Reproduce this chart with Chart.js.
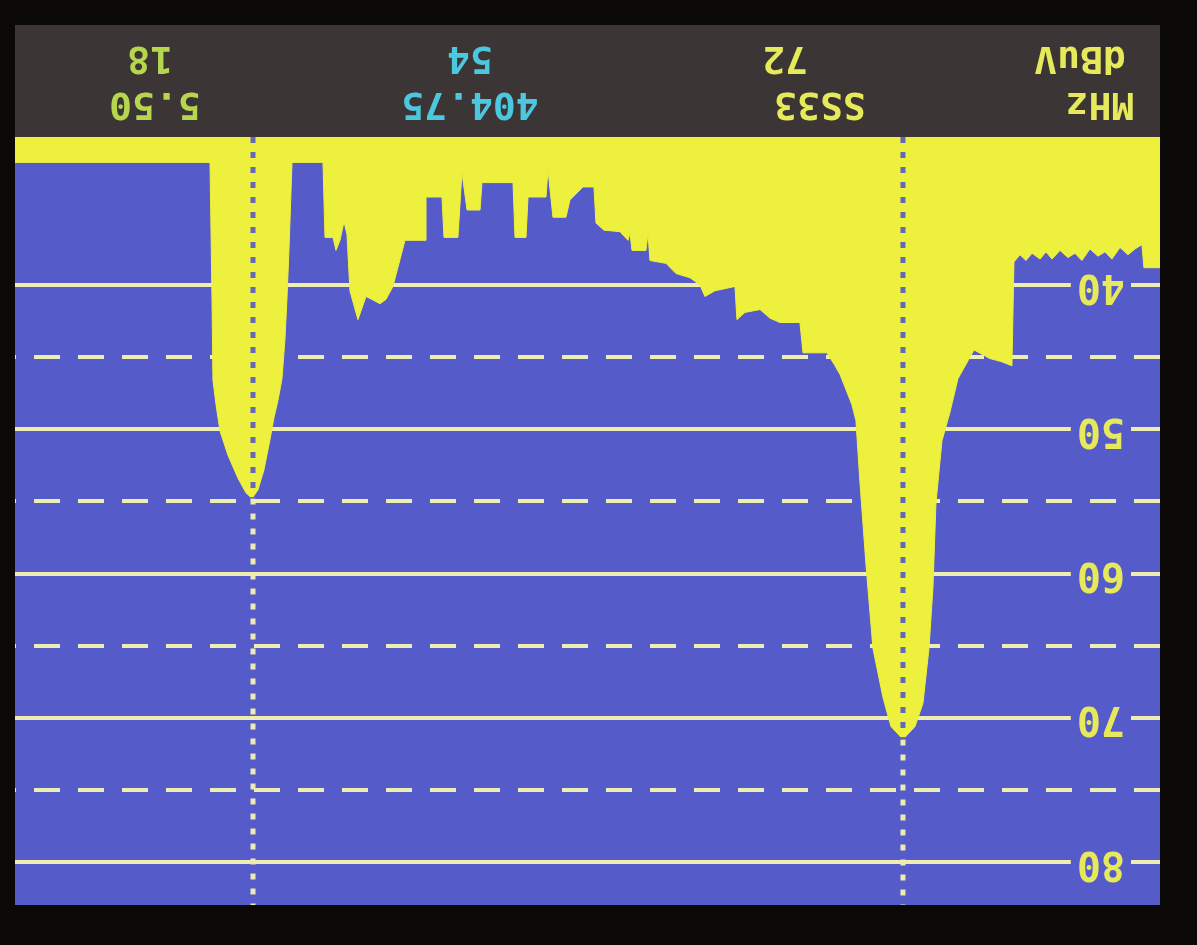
<!DOCTYPE html>
<html><head><meta charset="utf-8">
<script src="https://cdn.jsdelivr.net/npm/chart.js@4.4.1/dist/chart.umd.min.js"></script>
<style>
html,body{margin:0;padding:0;background:#0b0907;overflow:hidden;}
#wrap{position:absolute;left:0;top:0;width:1197px;height:945px;transform:rotate(180deg);transform-origin:50% 50%;}
canvas{display:block;}
</style></head><body>
<div id="wrap"><canvas id="c" width="1197" height="945"></canvas></div>
<script>
// Spectrum trace (frequency in MHz, level in dBuV)
const freqMHz = [
397.075,397.211,397.228,397.287,397.346,397.414,397.482,397.541,397.600,397.668,
397.736,397.795,397.854,397.921,397.989,398.040,398.090,398.158,398.209,398.260,
398.311,398.328,398.421,398.514,398.649,398.785,398.852,398.920,398.971,398.996,
399.030,399.081,399.148,399.250,399.352,399.419,399.504,399.563,399.614,399.648,
399.682,399.783,399.825,399.893,400.096,400.122,400.291,400.375,400.460,400.587,
400.655,400.672,400.841,400.926,400.968,401.052,401.171,401.255,401.391,401.408,
401.425,401.543,401.560,401.577,401.645,401.780,401.848,401.865,401.958,402.068,
402.102,402.212,402.254,402.271,402.423,402.440,402.533,402.550,402.813,402.829,
402.939,402.982,403.016,403.134,403.151,403.278,403.286,403.464,403.566,403.625,
403.676,403.743,403.794,403.862,403.930,403.955,403.980,404.014,404.048,404.073,
404.141,404.158,404.420,404.446,404.463,404.480,404.505,404.539,404.573,404.606,
404.657,404.708,404.759,404.810,404.877,404.962,405.030,405.063,405.089,405.097,
405.114,406.764];
const levelDbuv = [
38.8,38.8,37.2,37.5,37.9,37.4,38.2,37.7,38.0,37.5,
38.3,37.8,38.1,37.6,38.2,37.7,38.2,37.8,38.3,37.9,
38.4,45.6,45.3,45.1,44.5,46.5,48.8,50.8,55.1,60.9,
65.2,69.0,70.6,71.5,70.6,68.6,65.2,59.4,53.7,49.4,
48.3,46.2,45.6,44.7,44.7,42.6,42.6,42.3,41.7,41.9,
42.4,40.1,40.4,40.8,40.0,39.5,39.2,38.5,38.3,36.4,
37.6,37.6,36.4,36.9,36.3,36.2,35.7,33.2,33.2,34.1,
35.3,35.3,32.0,33.9,33.9,36.7,36.7,32.9,32.9,34.8,
34.8,32.2,36.7,36.7,33.9,33.9,36.9,36.9,40.1,41.0,
41.3,41.0,40.8,42.4,40.4,36.5,35.6,36.9,37.6,36.7,
36.7,31.5,31.5,37.6,41.0,43.8,46.5,48.0,49.2,50.7,
52.8,54.2,54.8,54.4,53.4,51.8,50.1,48.3,46.6,41.0,
31.5,31.5];

const yTickValues = [40, 50, 60, 70, 80];
const yMinorValues = [45, 55, 65, 75];
const markerFreqs = [404.75, 399.25];
const markerLevels = [54.8, 71.5];
const headerRow1 = ["MHz", "SS33", "404.75", "5.50"];
const headerRow2 = ["dBuV", "72", "54", "18"];
const xMin = 397.075, xMax = 406.764;
const yMin = 29.74, yMax = 82.98;

const BLUE = '#565bca', YELLOW = '#eef03e', GRID = '#efeeb2';

const points = freqMHz.map((f, i) => ({x: f, y: levelDbuv[i]}));

const datasets = [{
  data: points, borderColor: YELLOW, backgroundColor: YELLOW, borderWidth: 1,
  pointRadius: 0, fill: 'start', tension: 0, order: 10
}];
markerFreqs.forEach((f, i) => {
  datasets.push({
    data: [{x: f, y: yMin}, {x: f, y: markerLevels[i]}],
    borderColor: '#6369b8', borderWidth: 5, borderDash: [6, 9],
    pointRadius: 0, fill: false, order: 1
  });
  datasets.push({
    data: [{x: f, y: markerLevels[i]}, {x: f, y: yMax}],
    borderColor: '#ecebb0', borderWidth: 5, borderDash: [6, 9],
    pointRadius: 0, fill: false, order: 1
  });
});

const screenPlugin = {
  id: 'screen',
  beforeDraw(chart) {
    const {ctx, chartArea: a, width, height} = chart;
    ctx.save();
    ctx.fillStyle = '#0b0907';
    ctx.fillRect(0, 0, width, height);
    ctx.fillStyle = BLUE;
    ctx.fillRect(a.left, a.top, a.right - a.left, a.bottom - a.top);
    ctx.fillStyle = '#3b3535';
    ctx.fillRect(a.left, a.bottom, a.right - a.left, 112);
    ctx.restore();
  },
  afterDraw(chart) {
    const {ctx, chartArea: a} = chart;
    ctx.save();
    ctx.font = 'bold 38px "DejaVu Sans Mono"';
    ctx.textAlign = 'center';
    ctx.textBaseline = 'middle';
    const x1 = [97, 377, 727, 1042];
    const x2 = [117, 412, 727, 1047];
    const c1 = ['#e6ea5a', '#e6ea5a', '#4cc8de', '#b6d64e'];
    headerRow1.forEach((t, i) => { ctx.fillStyle = c1[i]; ctx.fillText(t, x1[i], a.bottom + 34); });
    headerRow2.forEach((t, i) => { ctx.fillStyle = c1[i]; ctx.fillText(t, x2[i], a.bottom + 80); });
    ctx.restore();
  }
};

const flatFit = s => {
  s.width = 0;
  s.paddingTop = 0; s.paddingBottom = 0; s.paddingLeft = 0; s.paddingRight = 0;
};

new Chart(document.getElementById('c'), {
  type: 'line',
  data: {datasets},
  plugins: [screenPlugin],
  options: {
    responsive: false, animation: false, devicePixelRatio: 1,
    layout: {padding: {left: 37, right: 15, top: 40, bottom: 137}},
    plugins: {legend: {display: false}, tooltip: {enabled: false}},
    scales: {
      x: {type: 'linear', min: xMin, max: xMax, display: false},
      y2: {
        type: 'linear', position: 'left', min: yMin, max: yMax,
        afterBuildTicks: s => { s.ticks = yMinorValues.map(v => ({value: v})); },
        afterFit: flatFit,
        grid: {color: GRID, lineWidth: 4, drawTicks: false},
        border: {display: false, dash: [26, 18]},
        ticks: {display: false}
      },
      y: {
        type: 'linear', position: 'left', min: yMin, max: yMax,
        afterBuildTicks: s => { s.ticks = yTickValues.map(v => ({value: v})); },
        afterFit: flatFit,
        grid: {color: GRID, lineWidth: 4, drawTicks: false},
        border: {display: false},
        ticks: {
          mirror: true, padding: 35, color: '#e6ea5a', autoSkip: false,
          font: {family: '"DejaVu Sans Mono"', size: 40, weight: 'bold'},
          showLabelBackdrop: true, backdropColor: BLUE,
          backdropPadding: {top: 0, bottom: 0, left: 6, right: 6},
          callback: v => String(v)
        }
      }
    }
  }
});
</script>
</body></html>
